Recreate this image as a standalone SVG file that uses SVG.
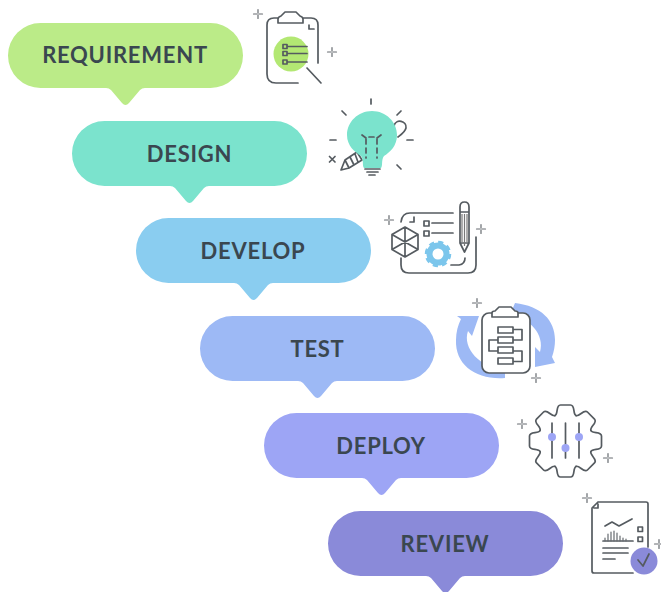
<svg xmlns="http://www.w3.org/2000/svg" width="661" height="592" viewBox="0 0 661 592">
<style>
.lbl{font-family:"Lato","Liberation Sans",sans-serif;font-weight:700;font-size:22px;letter-spacing:.75px;fill:#3a4750;text-anchor:middle}
.ln{fill:none;stroke:#555b60;stroke-width:1.700;stroke-linecap:round;stroke-linejoin:round}
.th{fill:none;stroke:#666b70;stroke-width:1.200;stroke-linecap:round}
</style>
<defs>
<path id="bubble" d="M32.5 0H202.5A32.5 32.5 0 0 1 202.5 65H137Q134 65 132 67L121 80Q117.500 84 114 80L103 67Q101 65 98 65H32.5A32.5 32.5 0 0 1 32.5 0Z"/>
<g id="sp"><path class="th" d="M0-4.500V-1M0 1V4.500M-4.500 0H-1M1 0H4.500"/></g>
<path id="gs" class="ln" d="M-10.500-25.400C-7-27-10-36-5-36H5C10-36 7-27 10.500-25.400"/>
</defs>
<rect width="661" height="592" fill="#fff"/>
<g id="connectors"></g>

<g id="requirement">
<use href="#bubble" x="8" y="23" fill="#bbeb88"/>
<text class="lbl" x="125" y="62.500">REQUIREMENT</text>
<circle cx="291" cy="54" r="17.500" fill="#b3e873"/>
<path class="ln" d="M278 18H274Q267 18 267 25V74Q267 83 276 83H298M303 18H311Q318 18 318 25V63M278 23V19Q278 17 281 16L285 12H296L300 16Q303 17 303 19V23ZM309 25V29H314M307 68L321 83"/>
<path class="ln" d="M283 44.500h4v4h-4zM283 51.500h4v4h-4zM283 60h4v4h-4zM288 46.500H307M288 53.500H307M288 62H307"/>
<use href="#sp" x="258" y="14"/><use href="#sp" x="332" y="52"/>
</g>

<g id="design">
<use href="#bubble" x="72" y="121" fill="#7be3cd"/>
<text class="lbl" x="189.500" y="162">DESIGN</text>
<path class="ln" d="M394 126C396 118 407 121 406 128C405 132 402 134 398 137M341 170L345 160L357 152L362 160L349 168ZM345 160L349 168M350 157L354 165M355 154L358 162"/>
<path d="M372 111C358 111 347 122 347 135C347 146 355 152 361 156C364 160 362 166 364 168H381C383 166 381 160 384 156C390 152 397 146 397 135C397 122 386 111 372 111Z" fill="#7be3cd"/>
<path class="ln" d="M371 99V104M342 111L346 115M401 111L397 115M330 140H336M407 140H413M397 165L401 169M329.500 156.500L335 162M335 156.500L329.500 162M365 169H380M367 172H378M369 175H375"/>
<path class="ln" stroke-dasharray="5 4" d="M366 139V158M377 139V158M362 135L366 138M381 135L377 138M369 137H374"/>
</g>

<g id="develop">
<use href="#bubble" x="136" y="218" fill="#8acdf0"/>
<text class="lbl" x="253" y="259">DEVELOP</text>
<path class="ln" d="M453 213H410Q402 213 401 222M401 258V265Q401 273 409 273H468Q476 273 476 265V237M410 222H414V217M451 265H459Q465 264 465 258"/>
<path class="ln" d="M424 221h5v5h-5zM424 231h5v5h-5zM432 223H453M432 233H453"/>
<path class="ln" d="M460 207Q460 202 464.500 202Q469 202 469 207V243L464.500 252L460 243ZM460 212H469M460 243H469"/>
<path d="M462 214V242M464.500 214V246M467 214V242" fill="none" stroke="#777" stroke-width="1.200"/>
<path class="ln" d="M405 227L418 234.500V249.500L405 257L392 249.500V234.500ZM405 227V257M392 234.500L418 249.500M418 234.500L392 249.500"/>
<circle cx="438" cy="254" r="8.500" fill="none" stroke="#7cc6ec" stroke-width="6"/>
<circle cx="438" cy="254" r="11.500" fill="none" stroke="#7cc6ec" stroke-width="3.500" stroke-dasharray="5 4"/>
<use href="#sp" x="389" y="220"/><use href="#sp" x="481" y="229"/>
</g>

<g id="test">
<use href="#bubble" x="200" y="316" fill="#9db9f5"/>
<text class="lbl" x="317.500" y="356.500">TEST</text>
<path d="M505 378C476 380 455 365 456 340C456 332 458 325 461 319L457 316L479 316L472 336L468 331C462 348 480 368 505 370Z" fill="#9db9f5"/>
<path d="M515 303C541 306 555 320 555 340C555 346 554 351 552 357L555 363L535 367L535 347L540 352C545 335 530 318 510 315Z" fill="#9db9f5"/>
<rect x="482" y="313" width="48" height="60" rx="7" fill="#fff" stroke="#555b60" stroke-width="1.700"/>
<path d="M492 317V313Q492 311 495 311L499 307H511L515 311Q518 311 518 313V317Z" fill="#fff" stroke="#555b60" stroke-width="1.700" stroke-linejoin="round"/>
<path class="ln" d="M498 327h15v6h-15zM498 337h15v6h-15zM498 347h15v6h-15zM498 358h15v6h-15zM513 329.500H522V340H513M498 340H489V351H498M513 351H522V361.500H513"/>
<use href="#sp" x="477" y="303"/><use href="#sp" x="536" y="378"/>
</g>

<g id="deploy">
<use href="#bubble" x="264" y="413" fill="#9da5f5"/>
<text class="lbl" x="381" y="454">DEPLOY</text>
<g transform="translate(565.500 441)">
<use href="#gs"/><use href="#gs" transform="rotate(45)"/><use href="#gs" transform="rotate(90)"/><use href="#gs" transform="rotate(135)"/><use href="#gs" transform="rotate(180)"/><use href="#gs" transform="rotate(225)"/><use href="#gs" transform="rotate(270)"/><use href="#gs" transform="rotate(315)"/>
</g>
<path class="ln" d="M552 423V458M565.500 423V458M579 423V458"/>
<circle cx="552" cy="437" r="4" fill="#9da5f5"/><circle cx="565.500" cy="448" r="4" fill="#9da5f5"/><circle cx="579" cy="437" r="4" fill="#9da5f5"/>
<use href="#sp" x="522" y="424"/><use href="#sp" x="608" y="458"/>
</g>

<g id="review">
<use href="#bubble" x="328" y="511" fill="#8a8ad9"/>
<text class="lbl" x="445" y="552">REVIEW</text>
<path class="ln" d="M598 502H646Q648 502 648 504V547M633 573H594Q592 573 592 571V508L598 502M594 508H598V504"/>
<path class="ln" d="M605 526L612 522L619 526L632 519M603 541H633M638 527h4.500v4.500h-4.500zM638 537h4.500v4.500h-4.500zM603 548H628M603 553H628M603 559H615"/>
<path class="th" d="M605 541V538M608 541V534M611 541V532M614 541V531M617 541V533M620 541V536M623 541V538M626 541V539"/>
<circle cx="644" cy="561" r="13.500" fill="#8a8ad9"/>
<path class="ln" d="M638 560L643 566L649 554"/>
<use href="#sp" x="587" y="498"/><use href="#sp" x="659" y="544"/>
</g>
</svg>
